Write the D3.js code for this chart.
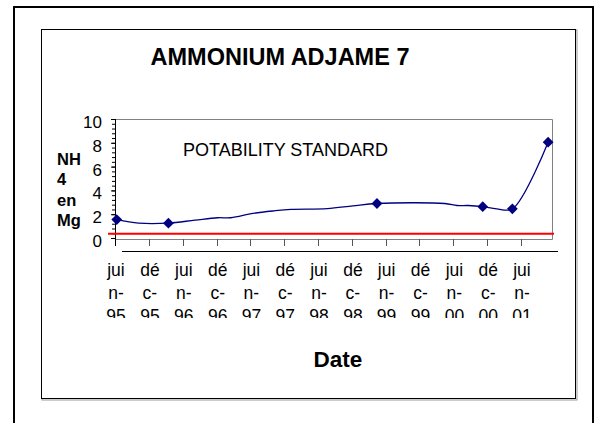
<!DOCTYPE html>
<html>
<head>
<meta charset="utf-8">
<script src="https://d3js.org/d3.v7.min.js"></script>
<style>
  body { margin: 0; background: #fff; }
  svg text { font-family: "Liberation Sans", Arial, sans-serif; }
</style>
</head>
<body>
<div id="plot"></div>
<script>
// AMMONIUM ADJAME 7 - NH4 (mg) over time

// line vertices (dates) and values
const lineDates = ["1995-06-05", "1995-10-01", "1996-03-10", "1996-08-01", "1996-12-01", "1997-02-10",
                   "1997-06-10", "1997-10-01", "1998-01-01", "1998-07-15", "1998-12-01", "1999-04-10",
                   "2000-04-10", "2000-06-15", "2000-08-15", "2000-11-01", "2001-01-15", "2001-04-10",
                   "2001-10-20"];
const lineValues = [1.55, 1.25, 1.25, 1.5, 1.7, 1.7,
                    2.07, 2.28, 2.4, 2.46, 2.7, 2.9,
                    2.9, 2.73, 2.73, 2.63, 2.45, 2.45,
                    8.05];

// measured points (diamond markers)
const markerDates = ["1995-06-05", "1996-03-10", "1999-04-10", "2000-11-01", "2001-04-10", "2001-10-20"];
const markerValues = [1.55, 1.25, 2.9, 2.63, 2.45, 8.05];

// potability standard (red line)
const standardValue = 0.35;

// x tick labels, one every six months
const tickDates = ["1995-06-01", "1995-12-01", "1996-06-01", "1996-12-01", "1997-06-01", "1997-12-01",
                   "1998-06-01", "1998-12-01", "1999-06-01", "1999-12-01", "2000-06-01", "2000-12-01",
                   "2001-06-01"];
const tickLabels = ["juin-95", "déc-95", "juin-96", "déc-96", "juin-97", "déc-97",
                    "juin-98", "déc-98", "juin-99", "déc-99", "juin-00", "déc-00", "juin-01"];

const yMajorTicks = [0, 2, 4, 6, 8, 10];

const parse = d3.timeParse("%Y-%m-%d");

const width = 597, height = 423;
const svg = d3.select("#plot").append("svg")
    .attr("width", width)
    .attr("height", height);

// outer frame
svg.append("rect")
    .attr("x", 14).attr("y", 7)
    .attr("width", 579).attr("height", 440)
    .attr("fill", "none").attr("stroke", "#000").attr("stroke-width", 2);

// inner frame with a little shadow
svg.append("rect")
    .attr("x", 42).attr("y", 30)
    .attr("width", 535).attr("height", 370)
    .attr("fill", "none").attr("stroke", "#999").attr("stroke-width", 1);
svg.append("rect")
    .attr("x", 41.5).attr("y", 29.5)
    .attr("width", 534).attr("height", 369)
    .attr("fill", "#fff").attr("stroke", "#000").attr("stroke-width", 1);

const x = d3.scaleTime()
    .domain([parse("1995-06-01"), parse("2001-11-10")])
    .range([116, 552]);

const y = d3.scaleLinear()
    .domain([0, 10])
    .range([238, 119]);

// title
svg.append("text")
    .attr("x", 280).attr("y", 65)
    .attr("text-anchor", "middle")
    .attr("font-size", 23.5).attr("font-weight", "bold")
    .text("AMMONIUM ADJAME 7");

// plot area border (grey top / right / bottom)
const [x0, x1] = x.range();
svg.append("path")
    .attr("d", `M${x0},${y(10) + 0.5}H${x1 + 0.5}V${y(0) + 1.5}H${x0}`)
    .attr("fill", "none").attr("stroke", "#808080").attr("stroke-width", 1);

// x ticks (grey, hanging under the plot)
svg.append("g")
    .selectAll("line")
    .data(tickDates)
    .join("line")
    .attr("x1", d => Math.round(x(parse(d))) - 0.5)
    .attr("x2", d => Math.round(x(parse(d))) - 0.5)
    .attr("y1", y(0) + 1)
    .attr("y2", y(0) + 8)
    .attr("stroke", "#555").attr("stroke-width", 1);

// stray axis line under the ticks
svg.append("line")
    .attr("x1", x0 + 6).attr("x2", x1 + 6)
    .attr("y1", y(0) + 13.5).attr("y2", y(0) + 13.5)
    .attr("stroke", "#000").attr("stroke-width", 1);

// x tick labels, wrapped like the original (month split, then year), last line clipped
svg.append("clipPath").attr("id", "xclip")
    .append("rect").attr("x", 0).attr("y", 250).attr("width", width).attr("height", 68);

const xLabels = svg.append("g")
    .attr("clip-path", "url(#xclip)")
    .attr("font-size", 17.5)
    .attr("text-anchor", "middle");

tickDates.forEach((d, i) => {
    const [month, year] = tickLabels[i].split("-");
    const lines = [month.slice(0, month.length - 1), month.slice(-1) + "-", year];
    const t = xLabels.append("text").attr("x", x(parse(d)));
    lines.forEach((s, k) => {
        t.append("tspan")
            .attr("x", x(parse(d)))
            .attr("y", y(0) + 38 + k * 23)
            .text(s);
    });
});

// x axis title
svg.append("text")
    .attr("x", 338).attr("y", 367)
    .attr("text-anchor", "middle")
    .attr("font-size", 22.5).attr("font-weight", "bold")
    .text("Date");

// y axis: minor ticks, major ticks with labels
const minorTicks = d3.range(0, 10.001, 0.4);
svg.append("g")
    .attr("transform", `translate(${x0},0)`)
    .call(d3.axisLeft(y).tickValues(minorTicks).tickSize(4).tickFormat(""))
    .call(g => g.select(".domain").remove());

const yAxis = svg.append("g")
    .attr("transform", `translate(${x0},0)`)
    .call(d3.axisLeft(y).tickValues(yMajorTicks).tickSize(5).tickPadding(9))
    .call(g => g.select(".domain").remove());
yAxis.selectAll("text")
    .attr("font-size", 17)
    .attr("font-family", "Liberation Sans, Arial, sans-serif")
    .attr("dy", "0.5em");

svg.append("line")
    .attr("x1", x0 - 0.5).attr("x2", x0 - 0.5)
    .attr("y1", y(10)).attr("y2", y(0) + 8)
    .attr("stroke", "#000").attr("stroke-width", 1);

// y axis title, stacked
const yTitle = svg.append("text")
    .attr("font-size", 16.5).attr("font-weight", "bold");
["NH", "4", "en", "Mg"].forEach((s, k) => {
    yTitle.append("tspan").attr("x", 57).attr("y", 165 + k * 20.4).text(s);
});

// potability standard
svg.append("line")
    .attr("x1", x0 - 8).attr("x2", x1 + 2)
    .attr("y1", y(standardValue)).attr("y2", y(standardValue))
    .attr("stroke", "#ff0000").attr("stroke-width", 2);

svg.append("text")
    .attr("x", 183).attr("y", 156)
    .attr("font-size", 18)
    .text("POTABILITY STANDARD");

// NH4 series
const lineData = lineDates.map((d, i) => ({ date: parse(d), value: lineValues[i] }));
const markerData = markerDates.map((d, i) => ({ date: parse(d), value: markerValues[i] }));

const line = d3.line()
    .x(d => x(d.date))
    .y(d => y(d.value))
    .curve(d3.curveCatmullRom.alpha(0.5));

svg.append("path")
    .datum(lineData)
    .attr("d", line)
    .attr("fill", "none")
    .attr("stroke", "#000080")
    .attr("stroke-width", 1.3);

svg.append("g")
    .selectAll("path")
    .data(markerData)
    .join("path")
    .attr("d", d3.symbol().type(d3.symbolSquare).size(58))
    .attr("transform", d => `translate(${x(d.date)},${y(d.value)}) rotate(45)`)
    .attr("fill", "#000080");
</script>
</body>
</html>
